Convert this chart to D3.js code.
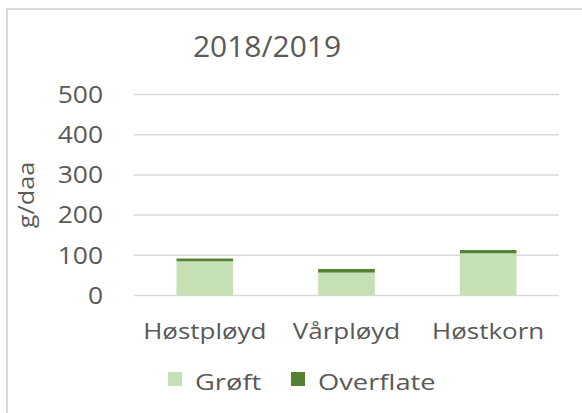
<!DOCTYPE html>
<html><head><meta charset="utf-8">
<script src="https://cdn.jsdelivr.net/npm/d3@7"></script>
<style>body{margin:0;background:#fff}svg{display:block}text{font-family:"Open Sans",sans-serif;fill:#595959}</style>
</head><body><svg id="c" width="582" height="413"></svg>
<script>
const title = "2018/2019";
const categories = ["Høstpløyd", "Vårpløyd", "Høstkorn"];
const seriesNames = ["Grøft", "Overflate"];
const grøft = [85, 57, 105];
const overflate = [7, 9, 8];
const yTicks = [0, 100, 200, 300, 400, 500];
const yLabel = "g/daa";
const colors = ["#c5e0b4", "#548235"];

const svg = d3.select("#c");
svg.append("rect").attr("x", 7).attr("y", 9).attr("width", 620).attr("height", 440)
  .attr("fill", "#fff").attr("stroke", "#d9d9d9").attr("stroke-width", 2);

const L = 134, R = 559, T = 94.5, B = 295.5;
const x = d3.scaleBand().domain(categories).range([L, R]).paddingInner(0.6).paddingOuter(0.3);
const y = d3.scaleLinear().domain([0, 500]).range([B, T]);

// gridlines
svg.append("g").selectAll("line").data(yTicks).join("line")
  .attr("x1", L).attr("x2", R).attr("y1", d => y(d)).attr("y2", d => y(d))
  .attr("stroke", "#d9d9d9").attr("stroke-width", 1.5);

// y axis ticks
const yAxis = svg.append("g").attr("transform", `translate(${L},0)`)
  .call(d3.axisLeft(y).tickValues(yTicks).tickSize(0).tickPadding(0));
yAxis.select(".domain").remove();
yAxis.selectAll("text").attr("font-size", 23).attr("fill", "#595959")
  .attr("font-family", "Open Sans").attr("x", 0).attr("dy", "0.34em")
  .attr("transform", "translate(-31,0) scale(1.15,1)");

// stacked bars
const data = categories.map((c, i) => ({cat: c, "Grøft": grøft[i], "Overflate": overflate[i]}));
const stack = d3.stack().keys(seriesNames)(data);
svg.append("g").selectAll("g").data(stack).join("g").attr("fill", (d, i) => colors[i])
  .selectAll("rect").data(d => d).join("rect")
  .attr("x", d => x(d.data.cat)).attr("width", x.bandwidth())
  .attr("y", d => y(d[1])).attr("height", d => y(d[0]) - y(d[1]));

// x axis labels
const xAxis = svg.append("g").attr("transform", `translate(0,${B})`)
  .call(d3.axisBottom(x).tickSize(0).tickPadding(0));
xAxis.select(".domain").remove();
xAxis.selectAll("text").attr("font-size", 22).attr("fill", "#595959")
  .attr("font-family", "Open Sans").attr("y", 0).attr("dy", 0)
  .attr("transform", "translate(0,43) scale(1.18,1)");

// title
svg.append("text").attr("x", 267).attr("y", 57).attr("text-anchor", "middle")
  .attr("font-size", 30).text(title);

// y label
svg.append("text").attr("transform", "translate(34,195) rotate(-90) scale(1.2,1)")
  .attr("text-anchor", "middle").attr("font-size", 21).text(yLabel);

// legend
const legX = [168, 291];
const leg = svg.append("g").selectAll("g").data(seriesNames).join("g")
  .attr("transform", (d, i) => `translate(${legX[i]},372)`);
leg.append("rect").attr("width", 14).attr("height", 14).attr("fill", (d, i) => colors[i]);
leg.append("text").attr("transform", "translate(27,17.5) scale(1.3,1)")
  .attr("font-size", 21).text(d => d);
</script></body></html>
